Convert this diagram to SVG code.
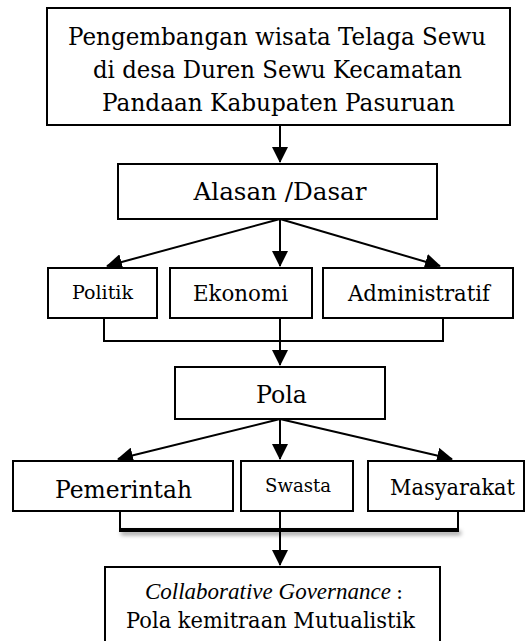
<svg xmlns="http://www.w3.org/2000/svg" width="527" height="641" viewBox="0 0 527 641">
<style>
.box{fill:#fff;stroke:#000;stroke-width:2}
.t{font-family:"DejaVu Serif","Liberation Serif",serif;fill:#000;text-anchor:middle}
.it{font-family:"Liberation Serif","DejaVu Serif",serif;font-style:italic;fill:#000}
.ln{fill:none;stroke:#000;stroke-width:2}
</style>
<defs>
<marker id="ah" viewBox="0 0 16 16" refX="15" refY="8" markerWidth="16" markerHeight="16" markerUnits="userSpaceOnUse" orient="auto">
<path d="M0,0 L16,8 L0,16 z" fill="#000"/>
</marker>
<filter id="sh" filterUnits="userSpaceOnUse" x="100" y="515" width="380" height="40">
<feDropShadow dx="2" dy="3" stdDeviation="2" flood-color="#000" flood-opacity="0.4"/>
</filter>
</defs>
<rect width="527" height="641" fill="#fff"/>
<g id="connectors">
<line class="ln" x1="280" y1="125" x2="280" y2="162" marker-end="url(#ah)"/>
<line class="ln" x1="280" y1="219" x2="107" y2="266" marker-end="url(#ah)"/>
<line class="ln" x1="280" y1="219" x2="280" y2="266" marker-end="url(#ah)"/>
<line class="ln" x1="280" y1="219" x2="440" y2="266" marker-end="url(#ah)"/>
<polyline class="ln" points="104,318 104,341 443,341 443,318"/>
<line class="ln" x1="280" y1="318" x2="280" y2="365" marker-end="url(#ah)"/>
<line class="ln" x1="280" y1="419" x2="118" y2="459" marker-end="url(#ah)"/>
<line class="ln" x1="280" y1="419" x2="280" y2="459" marker-end="url(#ah)"/>
<line class="ln" x1="280" y1="419" x2="452" y2="459" marker-end="url(#ah)"/>
<polyline class="ln" points="120,511 120,530"/>
<polyline class="ln" points="458,511 458,530"/>
<rect x="119" y="528" width="340" height="4" fill="#000" filter="url(#sh)"/>
<line class="ln" x1="280" y1="511" x2="280" y2="565" marker-end="url(#ah)"/>
</g>
<g id="node-top">
<rect class="box" x="47" y="8" width="463" height="117"/>
<text class="t" font-size="24.5" x="277" y="45" textLength="418" lengthAdjust="spacingAndGlyphs">Pengembangan wisata Telaga Sewu</text>
<text class="t" font-size="24.5" x="277.5" y="78" textLength="369" lengthAdjust="spacingAndGlyphs">di desa Duren Sewu Kecamatan</text>
<text class="t" font-size="24.5" x="278.5" y="111" textLength="353" lengthAdjust="spacingAndGlyphs">Pandaan Kabupaten Pasuruan</text>
</g>
<g id="node-alasan">
<rect class="box" x="118" y="164" width="319" height="55"/>
<text class="t" font-size="25" x="280" y="200" textLength="173" lengthAdjust="spacingAndGlyphs">Alasan /Dasar</text>
</g>
<g id="node-politik">
<rect class="box" x="48" y="268" width="109" height="50"/>
<text class="t" font-size="19" x="102.5" y="299" textLength="61" lengthAdjust="spacingAndGlyphs">Politik</text>
</g>
<g id="node-ekonomi">
<rect class="box" x="170" y="268" width="142" height="50"/>
<text class="t" font-size="21.5" x="240.5" y="301" textLength="95" lengthAdjust="spacingAndGlyphs">Ekonomi</text>
</g>
<g id="node-administratif">
<rect class="box" x="323" y="268" width="190" height="50"/>
<text class="t" font-size="21.5" x="419" y="301" textLength="142" lengthAdjust="spacingAndGlyphs">Administratif</text>
</g>
<g id="node-pola">
<rect class="box" x="175" y="367" width="210" height="52"/>
<text class="t" font-size="25" x="281.5" y="403" textLength="51" lengthAdjust="spacingAndGlyphs">Pola</text>
</g>
<g id="node-pemerintah">
<rect class="box" x="13" y="461" width="220" height="50"/>
<text class="t" font-size="25" x="123.5" y="498" textLength="137" lengthAdjust="spacingAndGlyphs">Pemerintah</text>
</g>
<g id="node-swasta">
<rect class="box" x="241" y="461" width="112" height="50"/>
<text class="t" font-size="18" x="298" y="492" textLength="66" lengthAdjust="spacingAndGlyphs">Swasta</text>
</g>
<g id="node-masyarakat">
<rect class="box" x="368" y="461" width="156" height="50"/>
<text class="t" font-size="22" x="452.5" y="495" textLength="125" lengthAdjust="spacingAndGlyphs">Masyarakat</text>
</g>
<g id="node-collab">
<rect class="box" x="105" y="567" width="335" height="95"/>
<text class="it" font-size="23" x="145" y="599">Collaborative Governance</text>
<text class="t" font-size="21" x="396" y="599" style="text-anchor:start">:</text>
<text class="t" font-size="23" x="270.5" y="628" textLength="289" lengthAdjust="spacingAndGlyphs">Pola kemitraan Mutualistik</text>
</g>
</svg>
